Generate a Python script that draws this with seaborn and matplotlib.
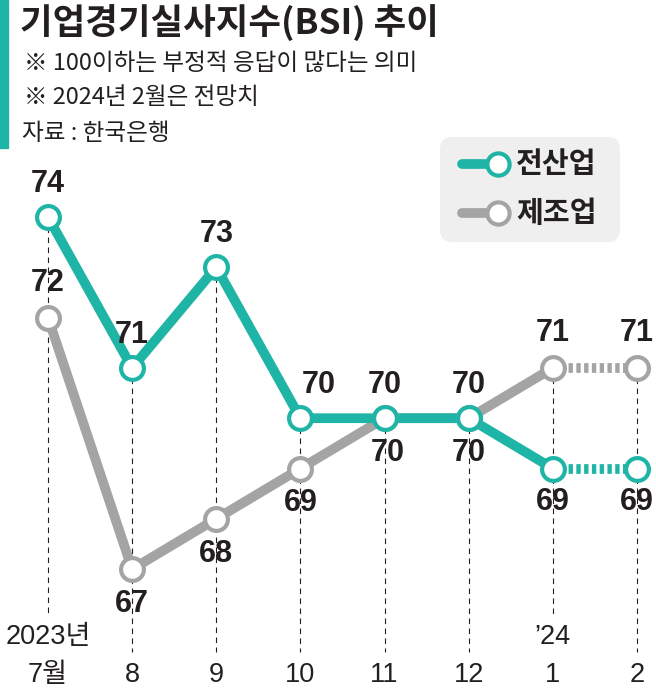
import numpy as np
import pandas as pd
import matplotlib
matplotlib.use('Agg')
import matplotlib.pyplot as plt
import seaborn as sns
from matplotlib.patches import FancyBboxPatch, Rectangle
from matplotlib.lines import Line2D

# data
months = ['7월', '8', '9', '10', '11', '12', '1', '2']
years = ['2023년', '', '', '', '', '', '\u201924', '']
all_industry = [74, 71, 73, 70, 70, 70, 69, 69]
manufacturing = [72, 67, 68, 69, 70, 70, 71, 71]
series_names = ['전산업', '제조업']

TEAL = '#1fb5a6'
GRAY = '#a4a4a4'
INK = '#231f20'
NUM_FONT = ['Liberation Sans', 'Noto Sans CJK KR', 'DejaVu Sans']
KR_FONT = ['Noto Sans CJK KR', 'DejaVu Sans']

sns.set_style('white')
plt.rcParams['font.family'] = KR_FONT

W, H = 656, 694
fig = plt.figure(figsize=(W / 100, H / 100), dpi=100)
ax = fig.add_axes([0, 0, 1, 1])

x = np.arange(len(months))
df = pd.DataFrame({'x': x, 'all': all_industry, 'mfg': manufacturing})
solid = df.iloc[:-1]
fcst = df.iloc[-2:]

def fx(px):
    return px / W

def fy(py):
    return 1 - py / H

XLIM = (-0.5705, 7.226)
YLIM = (64.517, 78.314)

# vertical guide lines
ylo, yhi = YLIM
for i in x:
    top = max(all_industry[i], manufacturing[i])
    bottom_frac = fy(615) if years[i] else fy(652)
    bottom = ylo + bottom_frac * (yhi - ylo)
    ax.plot([i, i], [top, bottom], color=INK, lw=0.8, ls=(0, (5, 4)), zorder=1)

# lines
for col, c, z in [('mfg', GRAY, 2), ('all', TEAL, 3)]:
    sns.lineplot(data=solid, x='x', y=col, color=c, lw=7, ax=ax, zorder=z,
                 solid_capstyle='butt')
    sns.lineplot(data=fcst, x='x', y=col, color=c, lw=7, ax=ax, zorder=z,
                 linestyle=(0, (0.45, 0.35)), dash_capstyle='butt')
for col, c, z in [('mfg', GRAY, 4), ('all', TEAL, 5)]:
    sns.scatterplot(data=df, x='x', y=col, s=270, color='white', edgecolor=c,
                    linewidth=3, ax=ax, zorder=z)
ax.set_xlabel('')
ax.set_ylabel('')
ax.set_xlim(*XLIM)
ax.set_ylim(*YLIM)
ax.axis('off')

# value labels
teal_side = [1, 1, 1, 1, 1, 1, -1, -1]
gray_side = [1, -1, -1, -1, -1, -1, 1, 1]
for i in x:
    dx = 13 if i == 3 else 0
    ax.annotate(str(all_industry[i]), (i, all_industry[i]),
                xytext=(dx, 24 * teal_side[i]), textcoords='offset points',
                ha='center', va='center', fontsize=22, fontweight='bold',
                family=NUM_FONT, color=INK, zorder=6)
    ax.annotate(str(manufacturing[i]), (i, manufacturing[i]),
                xytext=(2 if i == 4 else 0, 25 * gray_side[i]),
                textcoords='offset points',
                ha='center', va='center', fontsize=22, fontweight='bold',
                family=NUM_FONT, color=INK, zorder=6)

# x labels
xt = ax.get_xaxis_transform()
for i in x:
    ax.text(i, fy(675), months[i], transform=xt, ha='center', va='center',
            fontsize=19.5, family=NUM_FONT, color=INK)
    if years[i]:
        ax.text(i, fy(637), years[i], transform=xt, ha='center', va='center',
                fontsize=19.5, family=NUM_FONT, color=INK)

# header
fig.patches.append(Rectangle((0, fy(148)), fx(8), 1 - fy(148), color=TEAL,
                             transform=fig.transFigure, zorder=0))
fig.text(fx(20), fy(23), '기업경기실사지수(BSI) 추이', fontsize=25.5,
         fontweight='heavy', color=INK, va='center', ha='left')
fig.text(fx(24), fy(63), '※ 100이하는 부정적 응답이 많다는 의미', fontsize=17,
         color=INK, va='center', ha='left')
fig.text(fx(24), fy(98), '※ 2024년 2월은 전망치', fontsize=17,
         color=INK, va='center', ha='left')
fig.text(fx(22), fy(133), '자료 : 한국은행', fontsize=17,
         color=INK, va='center', ha='left')

# legend
fig.patches.append(FancyBboxPatch((fx(440), fy(242)), fx(180), fy(137) - fy(242),
                                  boxstyle='round,pad=0,rounding_size=0.018',
                                  facecolor='#efeff0', edgecolor='none',
                                  transform=fig.transFigure, zorder=0))
for name, c, py in [(series_names[0], TEAL, 164), (series_names[1], GRAY, 213)]:
    fig.lines.append(Line2D([fx(462), fx(498)], [fy(py), fy(py)], color=c, lw=7,
                            transform=fig.transFigure, solid_capstyle='round'))
    fig.lines.append(Line2D([fx(498)], [fy(py)], marker='o', markersize=16,
                            markerfacecolor='white', markeredgecolor=c,
                            markeredgewidth=3, transform=fig.transFigure))
    fig.text(fx(516), fy(py), name, fontsize=21, fontweight='bold', color=INK,
             va='center', ha='left')

fig.savefig('out.png', dpi=100)
